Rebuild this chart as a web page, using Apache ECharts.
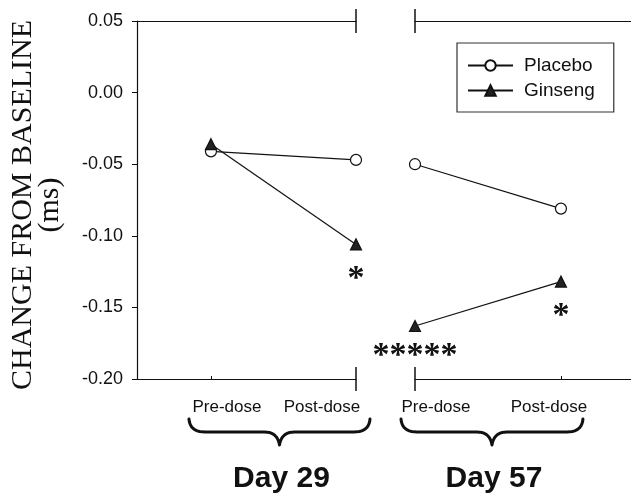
<!DOCTYPE html>
<html><head><meta charset="utf-8">
<script src="https://cdn.jsdelivr.net/npm/echarts@6/dist/echarts.min.js"></script>
<style>html,body{margin:0;padding:0;background:#fff}#main{width:631px;height:496px}</style>
</head><body><div id="main"></div>
<script>
// ---- data ----
const doseLabels = ['Pre-dose', 'Post-dose'];
const dayLabels = ['Day 29', 'Day 57'];
const placeboDay29 = [-0.041, -0.047];
const ginsengDay29 = [-0.036, -0.106];
const placeboDay57 = [-0.050, -0.081];
const ginsengDay57 = [-0.163, -0.132];
const yMin = -0.20, yMax = 0.05, yStep = 0.05;
const seriesNames = ['Placebo', 'Ginseng'];
// significance marks: [grid, dose index, value position, text]
const sigMarks = [[0, 1, -0.130, '*'], [1, 1, -0.156, '*'], [1, 0, -0.184, '*****']];

const INK = '#111';
const toPts = arr => arr.map((v, i) => [i, v]);

const chart = echarts.init(document.getElementById('main'));
const xBase = {
  type: 'value', splitLine: {show: false}, axisLabel: {show: false},
  axisLine: {show: true, onZero: false, lineStyle: {color: INK, width: 1.2}}
};
const lineSeries = (name, data, gi, symbol, fill, size) => ({
  name, type: 'line', xAxisIndex: gi * 2, yAxisIndex: gi, data: toPts(data),
  symbol, symbolSize: size, showSymbol: true,
  lineStyle: {color: INK, width: 1.2},
  itemStyle: {color: fill, borderColor: INK, borderWidth: 1.2},
  emphasis: {disabled: true}, animation: false
});

chart.setOption({
  animation: false,
  grid: [
    {left: 137, top: 21, width: 219, height: 358},
    {left: 415, top: 21, right: 0, height: 358}
  ],
  xAxis: [
    Object.assign({}, xBase, {gridIndex: 0, min: -0.51, max: 1, position: 'bottom',
      axisTick: {show: true, inside: true, length: 3, customValues: [0], lineStyle: {color: INK}}}),
    Object.assign({}, xBase, {gridIndex: 0, min: -0.51, max: 1, position: 'top', axisTick: {show: false}}),
    Object.assign({}, xBase, {gridIndex: 1, min: 0, max: 1.48, position: 'bottom',
      axisTick: {show: true, inside: true, length: 3, customValues: [1], lineStyle: {color: INK}}}),
    Object.assign({}, xBase, {gridIndex: 1, min: 0, max: 1.48, position: 'top', axisTick: {show: false}})
  ],
  yAxis: [
    {gridIndex: 0, type: 'value', min: yMin, max: yMax, interval: yStep,
      name: 'CHANGE FROM BASELINE\n(ms)', nameLocation: 'middle', nameRotate: 90, nameGap: 73,
      nameTextStyle: {fontFamily: 'Liberation Serif', fontSize: 30, lineHeight: 27, color: INK, align: 'center', padding: [0, 10, 0, 0]},
      axisLine: {show: true, onZero: false, lineStyle: {color: INK, width: 1.2}},
      axisTick: {show: true, length: 5, lineStyle: {color: INK}},
      axisLabel: {formatter: v => v.toFixed(2), fontSize: 18, fontFamily: 'Liberation Sans', color: INK, margin: 14},
      splitLine: {show: false}},
    {gridIndex: 1, type: 'value', min: yMin, max: yMax, interval: yStep, show: false, splitLine: {show: false}}
  ],
  legend: {
    data: seriesNames, orient: 'vertical', left: 457, top: 43,
    padding: [13, 19, 12, 10], itemGap: 6, itemWidth: 45, itemHeight: 13,
    borderColor: '#333', borderWidth: 1.2, selectedMode: false,
    textStyle: {fontSize: 19, fontFamily: 'Liberation Sans', color: INK, padding: [0, 0, 0, 6]}
  },
  series: [
    lineSeries(seriesNames[0], placeboDay29, 0, 'circle', '#fff', 11),
    lineSeries(seriesNames[0], placeboDay57, 1, 'circle', '#fff', 11),
    lineSeries(seriesNames[1], ginsengDay29, 0, 'triangle', '#222', 11),
    lineSeries(seriesNames[1], ginsengDay57, 1, 'triangle', '#222', 11)
  ]
});

// ---- annotations placed through the axes ----
const px = (gi, x, y) => chart.convertToPixel({xAxisIndex: gi * 2, yAxisIndex: gi}, [x, y]);
const g = [];
// axis break marks
const topY = px(0, 0, yMax)[1], botY = px(0, 0, yMin)[1];
const breakXs = [px(0, 1, 0)[0], px(1, 0, 0)[0]];
breakXs.forEach(x => {
  [topY, botY].forEach(y => g.push({type: 'line', shape: {x1: x, y1: y - 12, x2: x, y2: y + 12},
    style: {stroke: INK, lineWidth: 1.5}, silent: true}));
});
// dose labels (offset from their ticks as in the original)
const labelShift = [[16, -34], [21, -12]];
[0, 1].forEach(gi => doseLabels.forEach((t, i) => {
  const p = px(gi, i, yMin);
  g.push({type: 'text', x: p[0] + labelShift[gi][i], y: p[1] + 28,
    style: {text: t, font: '17px "Liberation Sans"', fill: INK, textAlign: 'center', textVerticalAlign: 'middle'}});
}));
// braces and day labels
function quad(p0, c, p1, n) {
  const out = [];
  for (let k = 0; k <= n; k++) {
    const t = k / n, u = 1 - t;
    out.push([u * u * p0[0] + 2 * u * t * c[0] + t * t * p1[0], u * u * p0[1] + 2 * u * t * c[1] + t * t * p1[1]]);
  }
  return out;
}
const braceSpan = [[-22, 14], [-14, 22]];
[0, 1].forEach(gi => {
  const a = px(gi, 0, yMin)[0] + braceSpan[gi][0];
  const b = px(gi, 1, yMin)[0] + braceSpan[gi][1];
  const m = (a + b) / 2, y0 = botY + 40, y1 = botY + 53, y2 = botY + 66;
  const pts = [].concat(
    quad([a, y0], [a + 1, y1], [a + 16, y1], 10),
    quad([m - 15, y1], [m - 2, y1], [m, y2], 10),
    quad([m, y2], [m + 2, y1], [m + 15, y1], 10),
    quad([b - 16, y1], [b - 1, y1], [b, y0], 10)
  );
  g.push({type: 'polyline', shape: {points: pts}, style: {fill: null, stroke: INK, lineWidth: 3, lineCap: 'round', lineJoin: 'round'}});
  g.push({type: 'text', x: m + 2, y: botY + 100,
    style: {text: dayLabels[gi], font: 'bold 30px "Liberation Sans"', fill: INK, textAlign: 'center', textVerticalAlign: 'middle'}});
});
// significance asterisks
sigMarks.forEach(s => {
  const p = px(s[0], s[1], s[2]);
  g.push({type: 'text', x: p[0], y: p[1],
    style: {text: s[3], font: 'bold 34px "Liberation Serif"', fill: INK, textAlign: 'center', textVerticalAlign: 'middle'}});
});
chart.setOption({graphic: g});
</script></body></html>
